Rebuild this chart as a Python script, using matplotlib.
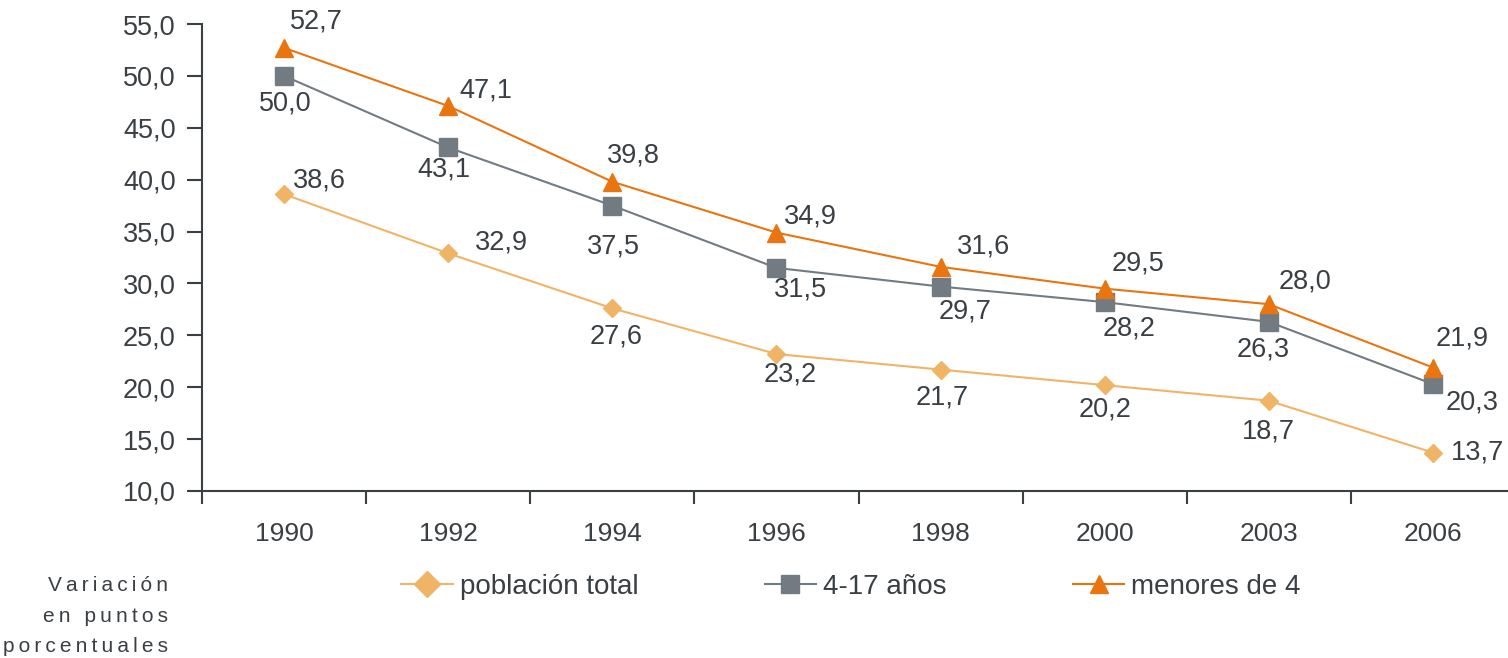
import matplotlib.pyplot as plt
from matplotlib.ticker import FuncFormatter, FixedLocator

# Data
years = ["1990", "1992", "1994", "1996", "1998", "2000", "2003", "2006"]
poblacion_total = [38.6, 32.9, 27.6, 23.2, 21.7, 20.2, 18.7, 13.7]
edad_4_17 = [50.0, 43.1, 37.5, 31.5, 29.7, 28.2, 26.3, 20.3]
menores_4 = [52.7, 47.1, 39.8, 34.9, 31.6, 29.5, 28.0, 21.9]

# label offsets in pixels (x, y up), placed as in the original
off_total = [(35, 14), (53, 11), (4, -28), (14, -20), (2, -28), (0, -24), (0, -31), (45, 0)]
off_417 = [(1, -28), (-4, -22), (1, -41), (24, -22), (25, -25), (24, -26), (-6, -28), (39, -18)]
off_men = [(32, 26), (38, 15), (21, 26), (34, 16), (43, 20), (33, 25), (36, 23), (29, 29)]

text_color = "#3a3f44"
c_total = "#F0B466"
c_417 = "#737B82"
c_men = "#E8750F"

plt.rcParams["font.family"] = ["Liberation Sans", "DejaVu Sans"]

fig = plt.figure(figsize=(15.08, 6.58), dpi=100)
ax = fig.add_axes([202 / 1508, 167 / 658, 1313 / 1508, 467 / 658])

x = list(range(len(years)))
ax.plot(x, poblacion_total, color=c_total, lw=1.5, marker="D", ms=9.5,
        label="población total")
ax.plot(x, edad_4_17, color=c_417, lw=1.5, marker="s", ms=12.5,
        label="4-17 años")
ax.plot(x, menores_4, color=c_men, lw=1.5, marker="^", ms=12.5,
        label="menores de 4")


def fmt(v):
    return f"{v:.1f}".replace(".", ",")


for series, offs in [(poblacion_total, off_total), (edad_4_17, off_417), (menores_4, off_men)]:
    for xi, v, (dx, dy) in zip(x, series, offs):
        ax.annotate(fmt(v), (xi, v), xytext=(dx, dy), textcoords="offset pixels",
                    ha="center", va="center", fontsize=19.5, color=text_color)

ax.set_xlim(-0.5, len(years) - 0.5)
ax.set_ylim(10, 55)
ax.set_yticks([10, 15, 20, 25, 30, 35, 40, 45, 50, 55])
ax.yaxis.set_major_formatter(FuncFormatter(lambda v, p: fmt(v)))

ax.set_xticks(x)
ax.set_xticklabels(years)
ax.xaxis.set_minor_locator(FixedLocator([i + 0.5 for i in range(-1, len(years))]))

ax.tick_params(axis="x", which="major", length=0, pad=22, labelsize=19, labelcolor=text_color)
ax.tick_params(axis="x", which="minor", length=9, width=1.5, color=text_color, direction="out")
ax.tick_params(axis="y", length=11, width=1.5, color=text_color, pad=8,
               labelsize=19.5, labelcolor=text_color)

for s in ["top", "right"]:
    ax.spines[s].set_visible(False)
for s in ["left", "bottom"]:
    ax.spines[s].set_color(text_color)
    ax.spines[s].set_linewidth(1.5)

leg = fig.legend(loc="center", bbox_to_anchor=(851 / 1508, 1 - 587 / 658), ncol=3,
                 frameon=False, fontsize=20, handlelength=1.85, handletextpad=0.25,
                 columnspacing=4.55)
for t in leg.get_texts():
    t.set_color(text_color)
for h, ms in zip(leg.legend_handles, [13, 13.5, 13.5]):
    h.set_markersize(ms)

# axis note, letter-spaced like the original
note = ["Variación", "en puntos", "porcentuales"]
note = "\n".join("\u2009".join(line) for line in note)
fig.text(168 / 1508, 1 - 616 / 658, note,
         ha="right", va="center", multialignment="right", fontsize=15,
         color=text_color, linespacing=1.75)

fig.savefig("out.png", dpi=100)
